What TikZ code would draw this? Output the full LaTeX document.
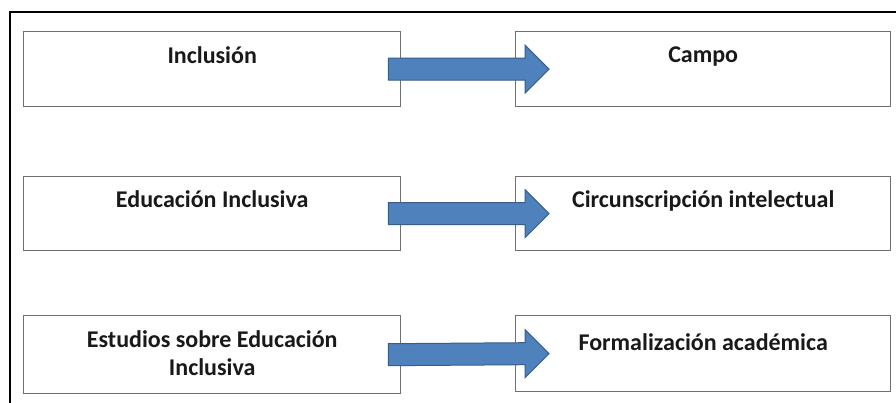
\documentclass[tikz,border=0pt]{standalone}
\usepackage{fontspec}
\setmainfont{Carlito}
\usetikzlibrary{calc}
\definecolor{arrowfill}{HTML}{4F81BD}
\definecolor{arrowedge}{HTML}{385D8A}
\definecolor{boxedge}{HTML}{707070}
\tikzset{
  box/.style={draw=boxedge, line width=1.4pt, fill=white, minimum height=#1, inner sep=0pt},
  lbox/.style={box=#1, minimum width=377pt, anchor=north west},
  rbox/.style={box=#1, minimum width=375pt, anchor=north west},
  lbl/.style={anchor=base, font=\fontsize{24}{28}\selectfont\bfseries, text=black!90, align=center, inner sep=0pt},
  bigarrow/.style={fill=arrowfill, draw=arrowedge, line width=1pt, line join=miter}
}
\newcommand{\fatarrow}[2]{%
  \path[bigarrow]
    ($(#1.east)+(-13pt,-11pt)$)
    -- ($(#2.west)+(10pt,-11pt)$)
    -- ($(#2.west)+(10pt,-24pt)$)
    -- ($(#2.west)+(34pt,0pt)$)
    -- ($(#2.west)+(10pt,24pt)$)
    -- ($(#2.west)+(10pt,11pt)$)
    -- ($(#1.east)+(-13pt,11pt)$)
    -- cycle;}
\begin{document}
\begin{tikzpicture}[x=1pt,y=-1pt]
\useasboundingbox (0,0) rectangle (896,403);
\fill[white] (0,0) rectangle (896,403);
% outer frame (top and left)
\draw[line width=2.5pt, black] (10,403) -- (10,12) -- (896,12);
% row 1
\node[lbox=75pt] (a1) at (23,31) {};
\node[rbox=75pt] (b1) at (515,31) {};
% row 2
\node[lbox=74pt] (a2) at (23,176) {};
\node[rbox=74pt] (b2) at (515,176) {};
% row 3
\node[lbox=78pt] (a3) at (23,315) {};
\node[rbox=76pt] (b3) at (515,315) {};
% arrows
\fatarrow{a1}{b1}
\fatarrow{a2}{b2}
\fatarrow{a3}{b3}
% labels
\node[lbl] (ta1) at ($(a1.north)+(0,33)$) {Inclusión};
\node[lbl] (tb1) at ($(b1.north)+(0,32)$) {Campo};
\node[lbl] (ta2) at ($(a2.north)+(0,32)$) {Educación Inclusiva};
\node[lbl] (tb2) at ($(b2.north)+(0,32)$) {Circunscripción intelectual};
\node[lbl, anchor=north] (ta3) at ($(a3.north)+(0,15)$) {Estudios sobre Educación\\Inclusiva};
\node[lbl] (tb3) at ($(b3.north)+(0,35)$) {Formalización académica};
\end{tikzpicture}
\end{document}
